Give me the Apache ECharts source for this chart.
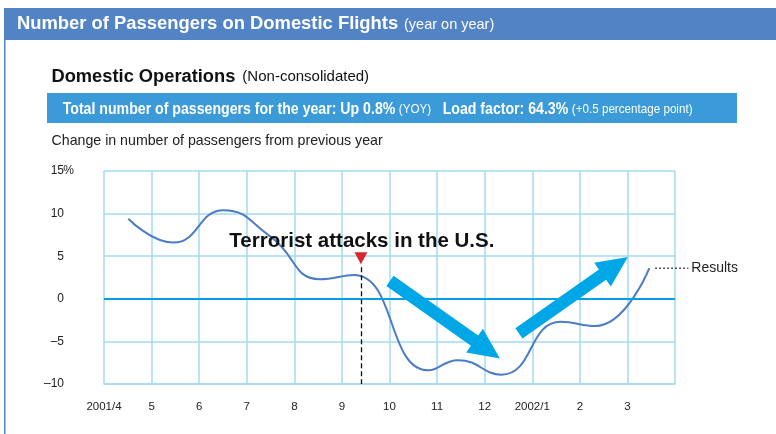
<!DOCTYPE html>
<html>
<head>
<meta charset="utf-8">
<script src="https://cdn.jsdelivr.net/npm/echarts@6/dist/echarts.min.js"></script>
<style>
html,body{margin:0;padding:0;background:#fff;}
#main{width:776px;height:434px;}
</style>
</head>
<body>
<div id="main"></div>
<script>
// month labels on the x axis (one per grid column)
var months = ['2001/4','5','6','7','8','9','10','11','12','2002/1','2','3'];
// where each month's point sits in its column, and the yoy change (%)
var monthPos = [0.51, 1.46, 2.51, 3.5, 4.54, 5.25, 6.82, 7.44, 8.35, 9.6, 10.32, 11.46];
var change   = [9.4, 6.6, 10.4, 7.3, 2.3, 2.8, -8.4, -7.2, -8.9, -2.7, -3.2, 3.6];
var yLabels  = ['\u201310', '\u20135', '0', '5', '10', '15'];

// annotation anchors in data coords
var attackPos = 5.4;                       // Sept 11
var downArrow = [[6.01, 2.1], [8.32, -7.0]];
var upArrow   = [[8.72, -4.06], [11.01, 4.92]];
var attackText = [5.42, 6.76];

var sans = '"Liberation Sans",Arial,Helvetica,sans-serif';
var gridBlue = '#a3daf4';
var headBlue = '#5284c5';
var arrowBlue = '#00a7e7';

var chart = echarts.init(document.getElementById('main'));

var option = {
    animation: false,
    grid: {left: 104, right: 101, top: 171, bottom: 50},
    xAxis: {
        type: 'value', min: 0, max: 12, interval: 1,
        axisLine: {onZero: false, lineStyle: {color: gridBlue, width: 1.5}},
        axisTick: {show: false},
        splitLine: {lineStyle: {color: gridBlue, width: 1.5}},
        axisLabel: {
            margin: 17, color: '#222', fontFamily: sans, fontSize: 11.5,
            formatter: function (v) { return months[v] || ''; }
        }
    },
    yAxis: {
        type: 'value', min: -10, max: 15, interval: 5,
        axisLine: {show: false},
        axisTick: {show: false},
        splitLine: {lineStyle: {color: gridBlue, width: 1.5}},
        axisLabel: {
            margin: 31,
            formatter: function (v) {
                var i = (v + 10) / 5;
                return '{n|' + yLabels[i] + '}{p|' + (v === 15 ? '%' : '\u00a0') + '}';
            },
            rich: {
                n: {color: '#222', fontFamily: sans, fontSize: 12},
                p: {color: '#222', fontFamily: sans, fontSize: 12, width: 9, align: 'left'}
            }
        }
    },
    series: [{
        type: 'line',
        data: monthPos.map(function (x, i) { return [x, change[i]]; }),
        smooth: 0.5,
        showSymbol: false,
        lineStyle: {color: '#4b7cc4', width: 2},
        z: 3,
        markLine: {
            silent: true, symbol: 'none', label: {show: false},
            data: [
                {yAxis: 0, lineStyle: {color: '#00a0e6', width: 2, type: 'solid'}},
                [{coord: [attackPos, 3.7], lineStyle: {color: '#111', width: 1.3, type: [5, 3]}},
                 {coord: [attackPos, -10]}]
            ]
        },
        markPoint: {
            silent: true,
            data: [{coord: [attackPos, 4.77], symbol: 'triangle', symbolRotate: 180,
                    symbolSize: [13, 12], itemStyle: {color: '#d7282f'}, label: {show: false}}]
        }
    }],
    graphic: [
        {type: 'rect', shape: {x: 4, y: 8, width: 772, height: 32}, style: {fill: headBlue}},
        {type: 'line', shape: {x1: 4.75, y1: 40, x2: 4.75, y2: 434}, style: {stroke: headBlue, lineWidth: 1.5}},
        {type: 'text', x: 17, y: 24, style: {
            text: 'Number of Passengers on Domestic Flights',
            font: 'bold 18.4px ' + sans, fill: '#fff', verticalAlign: 'middle'
        }},
        {type: 'text', x: 404, y: 24.5, style: {
            text: '(year on year)', font: '14.5px ' + sans, fill: '#fff', verticalAlign: 'middle'
        }},
        {type: 'text', x: 51.5, y: 76.5, style: {
            text: '{a|Domestic Operations}{g|}{b|(Non-consolidated)}',
            verticalAlign: 'middle',
            rich: {
                a: {fontFamily: sans, fontWeight: 'bold', fontSize: 18.3, fill: '#111'},
                g: {width: 7},
                b: {fontFamily: sans, fontSize: 15, fill: '#111'}
            }
        }},
        {type: 'rect', shape: {x: 47, y: 93, width: 690, height: 30}, style: {fill: '#3b9ad8'}},
        {type: 'text', x: 62.7, y: 109.2, scaleX: 0.883, style: {
            text: '{b|Total number of passengers for the year: Up 0.8%}{g1|}{s|(YOY)}{g2|}{b|Load factor: 64.3%}{g1|}{s|(+0.5 percentage point)}',
            verticalAlign: 'middle',
            rich: {
                b: {fontFamily: sans, fontWeight: 'bold', fontSize: 16, fill: '#fff'},
                s: {fontFamily: sans, fontSize: 13.2, fill: '#fff'},
                g1: {width: 4},
                g2: {width: 13}
            }
        }},
        {type: 'text', x: 51.5, y: 141.5, style: {
            text: 'Change in number of passengers from previous year',
            font: '14.2px ' + sans, fill: '#222', verticalAlign: 'middle'
        }}
    ]
};
chart.setOption(option);

function arrowShape(a, b, shaftW, headW, headL) {
    var p0 = chart.convertToPixel({gridIndex: 0}, a);
    var p1 = chart.convertToPixel({gridIndex: 0}, b);
    var dx = p1[0] - p0[0], dy = p1[1] - p0[1];
    var len = Math.sqrt(dx * dx + dy * dy);
    var ux = dx / len, uy = dy / len, nx = -uy, ny = ux;
    var bx = p1[0] - ux * headL, by = p1[1] - uy * headL;
    var s = shaftW / 2, h = headW / 2;
    return [
        [p0[0] + nx * s, p0[1] + ny * s],
        [bx + nx * s, by + ny * s],
        [bx + nx * h, by + ny * h],
        [p1[0], p1[1]],
        [bx - nx * h, by - ny * h],
        [bx - nx * s, by - ny * s],
        [p0[0] - nx * s, p0[1] - ny * s]
    ];
}

var last = chart.convertToPixel({gridIndex: 0}, [monthPos[monthPos.length - 1], change[change.length - 1]]);
var tPos = chart.convertToPixel({gridIndex: 0}, attackText);

chart.setOption({
    graphic: option.graphic.concat([
        {type: 'polygon', z: 10, shape: {points: arrowShape(downArrow[0], downArrow[1], 12.5, 29, 31)}, style: {fill: arrowBlue}},
        {type: 'polygon', z: 10, shape: {points: arrowShape(upArrow[0], upArrow[1], 12.5, 29, 31)}, style: {fill: arrowBlue}},
        {type: 'text', z: 10, x: tPos[0], y: tPos[1], style: {
            text: 'Terrorist attacks in the U.S.', font: 'bold 20.5px ' + sans,
            fill: '#111', align: 'center', verticalAlign: 'middle'
        }},
        {type: 'line', z: 10, shape: {x1: last[0] + 6, y1: last[1], x2: last[0] + 39, y2: last[1]},
            style: {stroke: '#222', lineWidth: 1.5, lineDash: [1.5, 2.5]}},
        {type: 'text', z: 10, x: last[0] + 42, y: last[1], style: {
            text: 'Results', font: '14px ' + sans, fill: '#222', verticalAlign: 'middle'
        }}
    ])
});
</script>
</body>
</html>
